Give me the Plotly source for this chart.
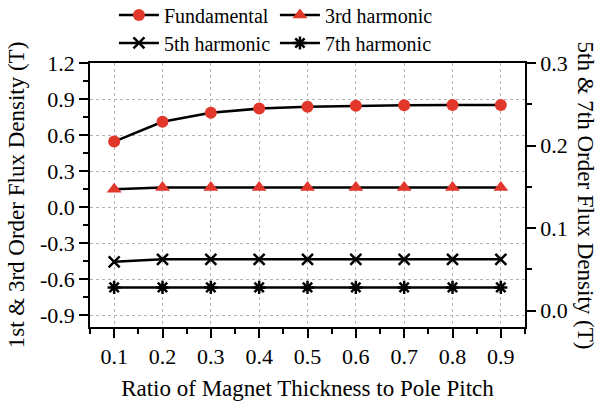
import plotly.graph_objects as go

ratio = [0.1, 0.2, 0.3, 0.4, 0.5, 0.6, 0.7, 0.8, 0.9]
fundamental = [0.545, 0.71, 0.785, 0.82, 0.835, 0.843, 0.848, 0.85, 0.85]
third = [0.148, 0.162, 0.163, 0.163, 0.163, 0.163, 0.163, 0.163, 0.163]
fifth = [0.059, 0.062, 0.062, 0.062, 0.062, 0.062, 0.062, 0.062, 0.062]
seventh = [0.028, 0.028, 0.028, 0.028, 0.028, 0.028, 0.028, 0.028, 0.028]

x_ticks = [0.1, 0.2, 0.3, 0.4, 0.5, 0.6, 0.7, 0.8, 0.9]
x_ticktext = ["0.1", "0.2", "0.3", "0.4", "0.5", "0.6", "0.7", "0.8", "0.9"]
y1_ticks = [-0.9, -0.6, -0.3, 0.0, 0.3, 0.6, 0.9, 1.2]
y1_ticktext = ["-0.9", "-0.6", "-0.3", "0.0", "0.3", "0.6", "0.9", "1.2"]
y2_ticks = [0.0, 0.1, 0.2, 0.3]
y2_ticktext = ["0.0", "0.1", "0.2", "0.3"]

FONT = "Liberation Serif"
RED = "#e2372b"
TICK = 22
TITLE = 23
LEG = 20

fig = go.Figure()
fig.add_trace(go.Scatter(x=ratio, y=fundamental, name="Fundamental", mode="lines+markers",
                         line=dict(color="black", width=2.5),
                         marker=dict(symbol="circle", size=12, color=RED), legend="legend"))
fig.add_trace(go.Scatter(x=ratio, y=third, name="3rd harmonic", mode="lines+markers",
                         line=dict(color="black", width=2.5),
                         marker=dict(symbol="triangle-up", size=13, color=RED), legend="legend"))
fig.add_trace(go.Scatter(x=ratio, y=fifth, name="5th harmonic", mode="lines+markers", yaxis="y2",
                         line=dict(color="black", width=2.5),
                         marker=dict(symbol="x-thin", size=11, line=dict(color="black", width=2.5)),
                         legend="legend2"))
fig.add_trace(go.Scatter(x=ratio, y=seventh, name="7th harmonic", mode="lines+markers", yaxis="y2",
                         line=dict(color="black", width=2.5),
                         marker=dict(symbol="asterisk", size=11, line=dict(color="black", width=2.5)),
                         legend="legend2"))

axis_common = dict(showline=True, linecolor="black", linewidth=1.5, ticks="outside",
                   ticklen=9, tickwidth=1.5, tickcolor="black", zeroline=False,
                   tickfont=dict(family=FONT, size=TICK, color="black"))

leg_common = dict(orientation="h", x=0.055, xanchor="left", yanchor="middle", yref="container",
                  font=dict(family=FONT, size=LEG, color="black"), bgcolor="rgba(0,0,0,0)",
                  entrywidth=106, entrywidthmode="pixels", tracegroupgap=0, itemwidth=40)

fig.update_layout(
    width=601, height=401,
    margin=dict(l=90, r=76, t=63, b=74, autoexpand=False),
    paper_bgcolor="white", plot_bgcolor="white",
    font=dict(family=FONT, size=TICK, color="black"),
    xaxis=dict(range=[0.05, 0.95], tickvals=x_ticks, ticktext=x_ticktext, mirror=True,
               showgrid=True, gridcolor="#b5b5b5", griddash="dot", gridwidth=1,
               minor=dict(dtick=0.05, tick0=0.05, ticklen=5, tickwidth=1.5, tickcolor="black",
                          ticks="outside", showgrid=False),
               title=dict(text="Ratio of Magnet Thickness to Pole Pitch",
                          font=dict(family=FONT, size=TITLE), standoff=12),
               **axis_common),
    yaxis=dict(range=[-1.0, 1.2], tickvals=y1_ticks, ticktext=y1_ticktext, mirror=True,
               showgrid=True, gridcolor="#b5b5b5", griddash="dot", gridwidth=1,
               minor=dict(dtick=0.15, tick0=0.15, ticklen=5, tickwidth=1.5, tickcolor="black",
                          ticks="outside", showgrid=False),
               title=dict(text="1st & 3rd Order Flux Density (T)",
                          font=dict(family=FONT, size=TITLE), standoff=9),
               **axis_common),
    yaxis2=dict(range=[-0.02, 0.3], tickvals=y2_ticks, ticktext=y2_ticktext, overlaying="y",
                side="right", showgrid=False,
                minor=dict(dtick=0.05, tick0=0.05, ticklen=5, tickwidth=1.5, tickcolor="black",
                           ticks="outside", showgrid=False),
                **axis_common),
    legend=dict(y=0.9626, **leg_common),
    legend2=dict(y=0.8928, **leg_common),
    annotations=[dict(text="5th & 7th Order Flux Density (T)", textangle=90,
                      xref="paper", yref="paper", x=1.0, y=0.5, xanchor="left",
                      yanchor="middle", xshift=46, showarrow=False,
                      font=dict(family=FONT, size=TITLE, color="black"))],
)

fig.write_html("out.html")
